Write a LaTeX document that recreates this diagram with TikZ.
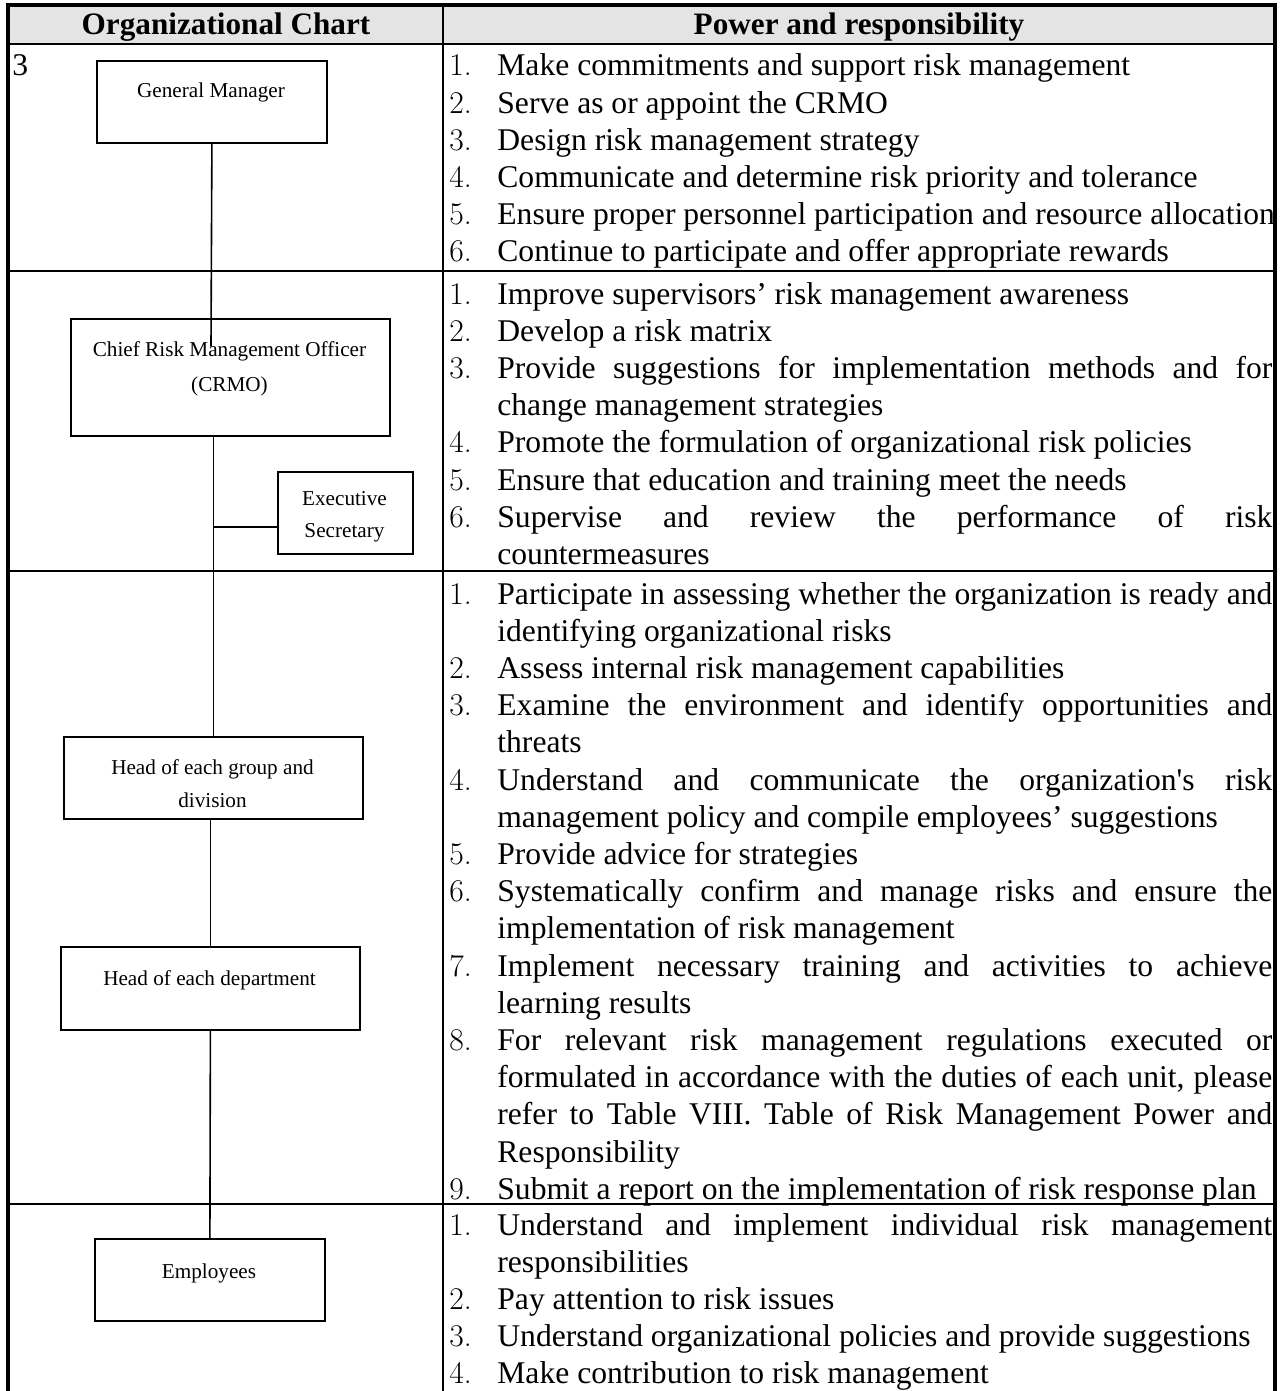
\documentclass[tikz,border=0pt]{standalone}
\usepackage{fontspec}
\setmainfont{Liberation Serif}
% digits of the item numbers come from Latin Modern
\newcommand\numfont{\fontfamily{lmr}\selectfont}
\newlength\px
\setlength\px{0.5pt}
\definecolor{headgray}{HTML}{E4E4E4}

% one line of an item list: name, line index, text
\newcommand\rowtop{76}
\newcommand\numat[3]{\node[listnum] (#1) at (449,\rowtop+#2*37.2) {#3};}
\newcommand\lineat[3]{\node[listtext] (#1) at (497,\rowtop+#2*37.2) {#3};}
\newcommand\jlineat[3]{\node[listtext] (#1) at (497,\rowtop+#2*37.2) {\makebox[775\px][s]{#3}};}

\tikzset{
  listtext/.style={inner sep=0pt, anchor=base west, font=\fontsize{15.8pt}{18pt}\selectfont},
  listnum/.style={inner sep=0pt, anchor=base west, font=\fontsize{15.8pt}{18pt}\selectfont\numfont},
  headtext/.style={inner sep=0pt, anchor=base, font=\fontsize{15.6pt}{18pt}\selectfont\bfseries},
  orgbox/.style={draw, line width=0.9pt, inner sep=0pt, anchor=north west},
  orgtext/.style={inner sep=0pt, anchor=base, font=\fontsize{10.6pt}{12pt}\selectfont},
  link/.style={line width=0.8pt},
  tablerule/.style={line width=1.1pt},
  frame/.style={line width=2pt},
}

\begin{document}
\begin{tikzpicture}[x=0.5pt,y=-0.5pt]
\useasboundingbox (0,0) rectangle (1287,1391);
\clip (0,0) rectangle (1287,1391);

% header band
\fill[headgray] (8,5) rectangle (1275,44);
\node[headtext] (hleft) at (226,35) {Organizational Chart};
\node[headtext] (hright) at (859,35) {Power and responsibility};

% table rules
\draw[tablerule] (8,44) -- (1275,44);
\draw[tablerule] (8,271) -- (1275,271);
\draw[tablerule] (8,571) -- (1275,571);
\draw[tablerule] (8,1204) -- (1275,1204);
\draw[tablerule] (443,5) -- (443,1395);
\draw[frame] (8,1395) -- (8,5) -- (1275,5) -- (1275,1395);

% stray cell number
\node[listtext] (cellno) at (12,76) {3};

% organisation chart boxes
\node[orgbox, minimum width=230\px, minimum height=82\px] (gm) at (96,60) {};
\node[orgbox, minimum width=319\px, minimum height=117\px] (crmo) at (70,318) {};
\node[orgbox, minimum width=135\px, minimum height=82\px] (sec) at (277,471) {};
\node[orgbox, minimum width=299\px, minimum height=82\px] (hgrp) at (63,736) {};
\node[orgbox, minimum width=299\px, minimum height=83\px] (hdept) at (60,946) {};
\node[orgbox, minimum width=230\px, minimum height=82\px] (emp) at (94,1238) {};

\node[orgtext] (gmt) at (211,98) {General Manager};
\node[orgtext] (crmot1) at (229.5,356) {Chief Risk Management Officer};
\node[orgtext] (crmot2) at (229.5,391) {(CRMO)};
\node[orgtext] (sect1) at (344.5,505) {Executive};
\node[orgtext] (sect2) at (344.5,537) {Secretary};
\node[orgtext] (hgrpt1) at (212.5,774) {Head of each group and};
\node[orgtext] (hgrpt2) at (212.5,807) {division};
\node[orgtext] (hdeptt) at (209.5,985) {Head of each department};
\node[orgtext] (empt) at (209,1278) {Employees};

% reporting lines
\coordinate (gmstop) at (211,346);
\draw[link] (gm.south) -- (gmstop);
\draw[link] (hgrp.north |- crmo.south) -- (hgrp.north);
\coordinate (secjoin) at (212.5,527);
\draw[link] (secjoin) -- (secjoin -| sec.west);
\draw[link] (hdept.north |- hgrp.south) -- (hdept.north);
\draw[link] (hdept.south) -- (emp.north);

% duties of the general manager
\renewcommand\rowtop{76}
\numat{an1}{0}{1.}\lineat{at1}{0}{Make commitments and support risk management}
\numat{an2}{1}{2.}\lineat{at2}{1}{Serve as or appoint the CRMO}
\numat{an3}{2}{3.}\lineat{at3}{2}{Design risk management strategy}
\numat{an4}{3}{4.}\lineat{at4}{3}{Communicate and determine risk priority and tolerance}
\numat{an5}{4}{5.}\lineat{at5}{4}{Ensure proper personnel participation and resource allocation}
\numat{an6}{5}{6.}\lineat{at6}{5}{Continue to participate and offer appropriate rewards}

% duties of the CRMO
\renewcommand\rowtop{304}
\numat{bn1}{0}{1.}\lineat{bt1}{0}{Improve supervisors’ risk management awareness}
\numat{bn2}{1}{2.}\lineat{bt2}{1}{Develop a risk matrix}
\numat{bn3}{2}{3.}\jlineat{bt3}{2}{Provide suggestions for implementation methods and for}
\lineat{bt3b}{3}{change management strategies}
\numat{bn4}{4}{4.}\lineat{bt4}{4}{Promote the formulation of organizational risk policies}
\numat{bn5}{5}{5.}\lineat{bt5}{5}{Ensure that education and training meet the needs}
\numat{bn6}{6}{6.}\jlineat{bt6}{6}{Supervise and review the performance of risk}
\lineat{bt6b}{7}{countermeasures}

% duties of group, division and department heads
\renewcommand\rowtop{604}
\numat{cn1}{0}{1.}\jlineat{ct1}{0}{Participate in assessing whether the organization is ready and}
\lineat{ct1b}{1}{identifying organizational risks}
\numat{cn2}{2}{2.}\lineat{ct2}{2}{Assess internal risk management capabilities}
\numat{cn3}{3}{3.}\jlineat{ct3}{3}{Examine the environment and identify opportunities and}
\lineat{ct3b}{4}{threats}
\numat{cn4}{5}{4.}\jlineat{ct4}{5}{Understand and communicate the organization\textquotesingle s risk}
\lineat{ct4b}{6}{management policy and compile employees’ suggestions}
\numat{cn5}{7}{5.}\lineat{ct5}{7}{Provide advice for strategies}
\numat{cn6}{8}{6.}\jlineat{ct6}{8}{Systematically confirm and manage risks and ensure the}
\lineat{ct6b}{9}{implementation of risk management}
\numat{cn7}{10}{7.}\jlineat{ct7}{10}{Implement necessary training and activities to achieve}
\lineat{ct7b}{11}{learning results}
\numat{cn8}{12}{8.}\jlineat{ct8}{12}{For relevant risk management regulations executed or}
\jlineat{ct8b}{13}{formulated in accordance with the duties of each unit, please}
\jlineat{ct8c}{14}{refer to Table VIII. Table of Risk Management Power and}
\lineat{ct8d}{15}{Responsibility}
\numat{cn9}{16}{9.}\lineat{ct9}{16}{Submit a report on the implementation of risk response plan}

% duties of employees
\renewcommand\rowtop{1235}
\numat{dn1}{0}{1.}\jlineat{dt1}{0}{Understand and implement individual risk management}
\lineat{dt1b}{1}{responsibilities}
\numat{dn2}{2}{2.}\lineat{dt2}{2}{Pay attention to risk issues}
\numat{dn3}{3}{3.}\lineat{dt3}{3}{Understand organizational policies and provide suggestions}
\numat{dn4}{4}{4.}\lineat{dt4}{4}{Make contribution to risk management}
\end{tikzpicture}
\end{document}
